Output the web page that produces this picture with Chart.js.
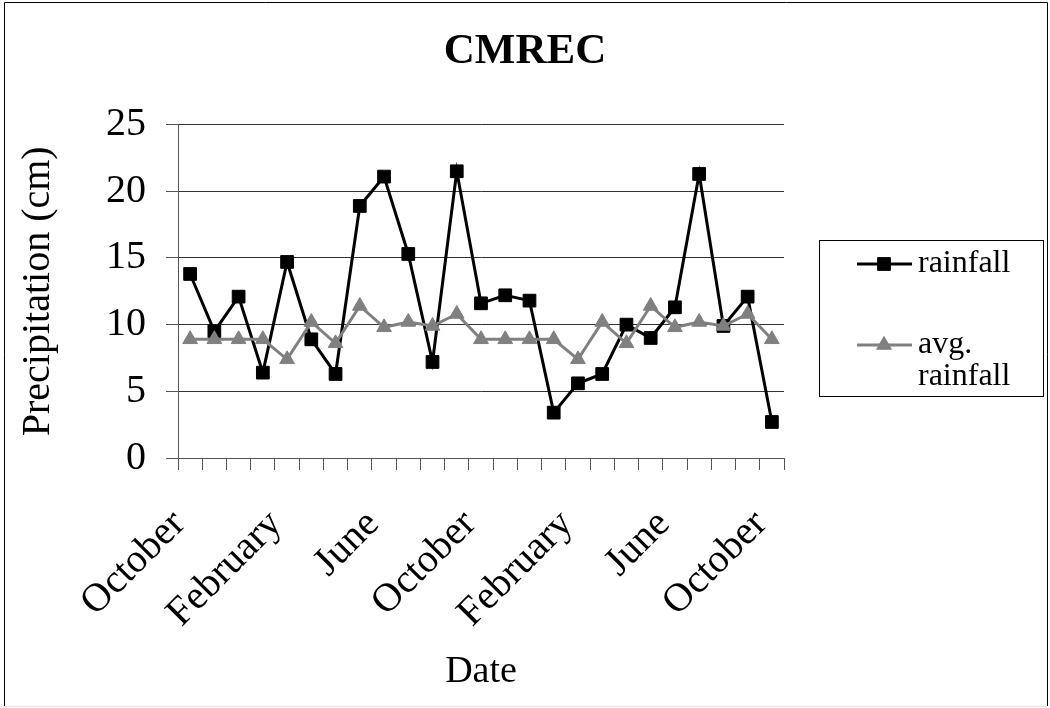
<!DOCTYPE html>
<html>
<head>
<meta charset="utf-8">
<title>CMREC</title>
<script src="https://cdn.jsdelivr.net/npm/chart.js@4.4.1/dist/chart.umd.min.js"></script>
<style>
  html, body { margin: 0; padding: 0; background: #ffffff; }
  #wrap { width: 1050px; height: 708px; position: relative; }
</style>
</head>
<body>
<div id="wrap"><canvas id="chart" width="1050" height="708"></canvas></div>
<script>
// Monthly categories, October through the October two years later
const months = [
  'October', 'November', 'December', 'January', 'February', 'March', 'April',
  'May', 'June', 'July', 'August', 'September',
  'October', 'November', 'December', 'January', 'February', 'March', 'April',
  'May', 'June', 'July', 'August', 'September', 'October'
];

// Monthly precipitation (cm)
const rainfall = [
  13.8, 9.5, 12.1, 6.4, 14.7, 8.9, 6.3, 18.9, 21.1, 15.3, 7.2, 21.5,
  11.6, 12.2, 11.8, 3.4, 5.6, 6.3, 10.0, 9.0, 11.3, 21.3, 9.9, 12.1, 2.7
];

// Long-term average precipitation for the same month (cm)
const avgRainfall = [
  8.9, 8.9, 8.9, 8.9, 7.4, 10.2, 8.6, 11.4, 9.8, 10.2, 9.9, 10.8,
  8.9, 8.9, 8.9, 8.9, 7.4, 10.2, 8.6, 11.4, 9.8, 10.2, 9.9, 10.8, 8.9
];

const yTickValues = [0, 5, 10, 15, 20, 25];
const labelEvery = 4;

const SERIF = "'Liberation Serif', 'Times New Roman', serif";

// Frame around the whole figure
const framePlugin = {
  id: 'frame',
  afterDraw(chart) {
    const ctx = chart.ctx;
    ctx.save();
    ctx.lineWidth = 1;
    ctx.strokeStyle = '#000000';
    ctx.beginPath();
    ctx.moveTo(4.5, 706);
    ctx.lineTo(4.5, 2.5);
    ctx.lineTo(1047.5, 2.5);
    ctx.lineTo(1047.5, 706);
    ctx.stroke();
    ctx.strokeStyle = '#e4e4e4';
    ctx.beginPath();
    ctx.moveTo(4.5, 706.5);
    ctx.lineTo(1047.5, 706.5);
    ctx.stroke();
    ctx.restore();
  }
};

// Boxed legend on the right, with wrapped label text
const boxLegendPlugin = {
  id: 'boxLegend',
  afterDraw(chart) {
    const ctx = chart.ctx;
    const box = { x: 819.5, y: 240.5, w: 224, h: 156 };
    ctx.save();
    ctx.lineWidth = 1;
    ctx.strokeStyle = '#000000';
    ctx.strokeRect(box.x, box.y, box.w, box.h);

    const rows = [
      { ds: chart.data.datasets[0], lines: ['rainfall'], y: 264 },
      { ds: chart.data.datasets[1], lines: ['avg.', 'rainfall'], y: 345 }
    ];
    ctx.font = '32px ' + SERIF;
    ctx.textBaseline = 'middle';
    ctx.textAlign = 'left';
    rows.forEach(row => {
      const ds = row.ds;
      ctx.strokeStyle = ds.borderColor;
      ctx.lineWidth = ds.borderWidth;
      ctx.beginPath();
      ctx.moveTo(857, row.y);
      ctx.lineTo(912, row.y);
      ctx.stroke();
      ctx.fillStyle = ds.pointBackgroundColor;
      ctx.strokeStyle = ds.pointBorderColor;
      ctx.lineWidth = ds.pointBorderWidth;
      Chart.helpers.drawPoint(ctx, {
        pointStyle: ds.pointStyle,
        radius: ds.pointRadius,
        borderWidth: ds.pointBorderWidth,
        rotation: 0
      }, 884, row.y);
      ctx.fillStyle = '#000000';
      row.lines.forEach((t, i) => ctx.fillText(t, 918, row.y + i * 32));
    });
    ctx.restore();
  }
};

new Chart(document.getElementById('chart'), {
  type: 'line',
  data: {
    labels: months,
    datasets: [
      {
        label: 'rainfall',
        data: rainfall,
        yAxisID: 'y',
        order: 2,
        borderColor: '#000000',
        borderWidth: 3,
        tension: 0,
        pointStyle: 'rect',
        pointRadius: 9,
        pointBorderWidth: 1,
        pointBackgroundColor: '#000000',
        pointBorderColor: '#000000'
      },
      {
        label: 'avg. rainfall',
        data: avgRainfall,
        yAxisID: 'y',
        order: 1,
        borderColor: '#808080',
        borderWidth: 3,
        tension: 0,
        pointStyle: 'triangle',
        pointRadius: 8.5,
        pointBorderWidth: 1,
        pointBackgroundColor: '#808080',
        pointBorderColor: '#808080'
      }
    ]
  },
  options: {
    responsive: false,
    animation: false,
    devicePixelRatio: 1,
    layout: { padding: 0 },
    plugins: {
      legend: { display: false },
      tooltip: { enabled: false },
      title: {
        display: true,
        text: 'CMREC',
        color: '#000000',
        font: { family: SERIF, size: 43, weight: 'bold' },
        padding: { top: 26, bottom: 47 }
      }
    },
    scales: {
      x: {
        type: 'category',
        offset: true,
        afterFit(scale) { scale.height = 250; },
        border: { display: true, color: '#555555', width: 1 },
        grid: {
          offset: true,
          drawOnChartArea: false,
          drawTicks: true,
          tickLength: 12,
          color: '#555555'
        },
        ticks: {
          autoSkip: false,
          minRotation: 45,
          maxRotation: 45,
          padding: 31,
          labelOffset: -11,
          color: '#000000',
          font: { family: SERIF, size: 40 },
          callback(value, index) {
            return index % labelEvery === 0 ? this.getLabelForValue(value) : '';
          }
        },
        title: {
          display: true,
          text: 'Date',
          color: '#000000',
          font: { family: SERIF, size: 38 },
          padding: { top: 0, bottom: 13 }
        }
      },
      y: {
        position: 'left',
        min: 0,
        max: 25,
        afterFit(scale) { scale.width = 178; },
        afterBuildTicks(scale) {
          scale.ticks = yTickValues.map(v => ({ value: v }));
        },
        border: { display: true, color: '#555555', width: 1 },
        grid: {
          color: '#333333',
          lineWidth: 1,
          drawTicks: true,
          tickLength: 12,
          tickColor: '#555555'
        },
        ticks: {
          padding: 20,
          color: '#000000',
          font: { family: SERIF, size: 40 }
        },
        title: {
          display: true,
          text: 'Precipitation (cm)',
          color: '#000000',
          font: { family: SERIF, size: 40 },
          padding: { top: 14, bottom: 0 }
        }
      },
      // Empty right-hand axis that keeps the space where the legend box sits
      legendSpace: {
        type: 'linear',
        position: 'right',
        display: true,
        afterFit(scale) { scale.width = 266; },
        border: { display: false },
        grid: { display: false, drawOnChartArea: false },
        ticks: { display: false }
      }
    }
  },
  plugins: [framePlugin, boxLegendPlugin]
});
</script>
</body>
</html>
